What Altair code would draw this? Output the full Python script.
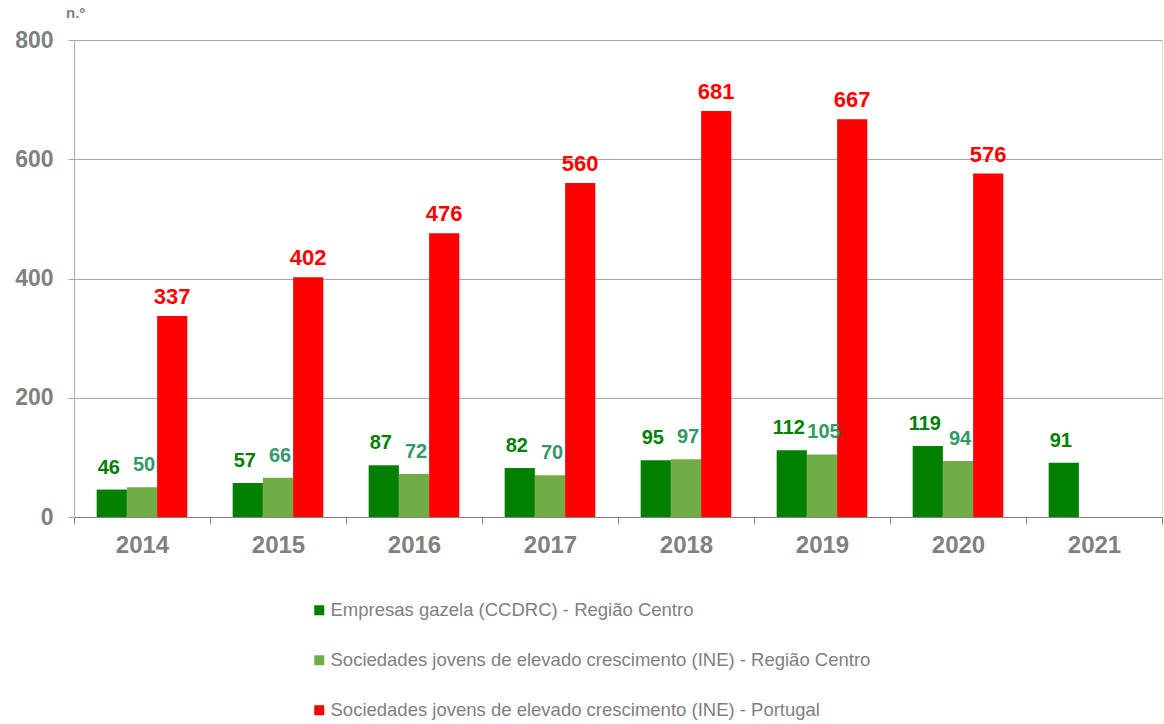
import altair as alt
import pandas as pd

years = ["2014", "2015", "2016", "2017", "2018", "2019", "2020", "2021"]
series = [
    "Empresas gazela (CCDRC) - Região Centro",
    "Sociedades jovens de elevado crescimento (INE) - Região Centro",
    "Sociedades jovens de elevado crescimento (INE) - Portugal",
]
gazela = [46, 57, 87, 82, 95, 112, 119, 91]
ine_centro = [50, 66, 72, 70, 97, 105, 94, None]
ine_pt = [337, 402, 476, 560, 681, 667, 576, None]

bar_colors = ["#008000", "#70AD47", "#FF0000"]
label_colors = ["#008000", "#339966", "#FF0000"]
label_dy = [-16, -16, -12]
label_dx = [-3, 2, 0]
label_size = [20, 20, 22]

rows = []
for s, vals in zip(series, [gazela, ine_centro, ine_pt]):
    for y, v in zip(years, vals):
        if v is not None:
            rows.append({"ano": y, "serie": s, "valor": v})
df = pd.DataFrame(rows)

FONT = "Liberation Sans"
GREY = "#808080"

x_enc = alt.X(
    "ano:N",
    sort=years,
    scale=alt.Scale(paddingInner=0, paddingOuter=0),
    axis=alt.Axis(
        title=None,
        labelAngle=0,
        labelFont=FONT,
        labelFontSize=24,
        labelFontWeight="bold",
        labelColor=GREY,
        labelPadding=9,
        tickBand="extent",
        tickSize=7,
        tickColor=GREY,
        domainColor=GREY,
        grid=False,
    ),
)
xoff = alt.XOffset(
    "serie:N",
    sort=series,
    scale=alt.Scale(paddingInner=0, paddingOuter=0.75),
)
y_enc = alt.Y(
    "valor:Q",
    scale=alt.Scale(domain=[0, 800]),
    axis=alt.Axis(
        values=[0, 200, 400, 600, 800],
        title="n.º",
        titleAngle=0,
        titleX=1,
        titleY=-20,
        titleAlign="center",
        titleFont=FONT,
        titleFontSize=15,
        titleFontWeight="bold",
        titleColor=GREY,
        labelFont=FONT,
        labelFontSize=23,
        labelFontWeight="bold",
        labelColor=GREY,
        labelPadding=15,
        tickSize=6,
        tickColor="#a6a6a6",
        domainColor="#b0b0b0",
        gridColor="#a6a6a6",
    ),
)

bars = alt.Chart(df).mark_bar().encode(
    x=x_enc,
    xOffset=xoff,
    y=y_enc,
    color=alt.Color(
        "serie:N",
        sort=series,
        scale=alt.Scale(domain=series, range=bar_colors),
        legend=alt.Legend(
            title=None,
            orient="none",
            legendX=236,
            legendY=561,
            direction="vertical",
            symbolType="square",
            symbolSize=100,
            symbolStrokeWidth=0,
            labelFont=FONT,
            labelFontSize=18.5,
            labelColor=GREY,
            labelLimit=900,
            rowPadding=31,
            labelOffset=2,
        ),
    ),
)

layers = [bars]
for s, c, dy, dx, fs in zip(series, label_colors, label_dy, label_dx, label_size):
    t = (
        alt.Chart(df)
        .transform_filter(alt.datum.serie == s)
        .mark_text(
            font=FONT,
            fontSize=fs,
            fontWeight="bold",
            color=c,
            baseline="alphabetic",
            dy=dy,
            dx=dx,
        )
        .encode(
            x=alt.X("ano:N", sort=years),
            xOffset=alt.XOffset("serie:N", sort=series),
            y=alt.Y("valor:Q"),
            text=alt.Text("valor:Q"),
        )
    )
    layers.append(t)

chart = (
    alt.layer(*layers)
    .properties(
        width=1088,
        height=477,
        autosize=alt.AutoSizeParams(type="none"),
        padding={"left": 74, "top": 40, "right": 2, "bottom": 207},
    )
    .configure_view(stroke=None)
    .configure(background="white")
)

chart.save("out.html", embed_options={"renderer": "svg", "actions": False})
